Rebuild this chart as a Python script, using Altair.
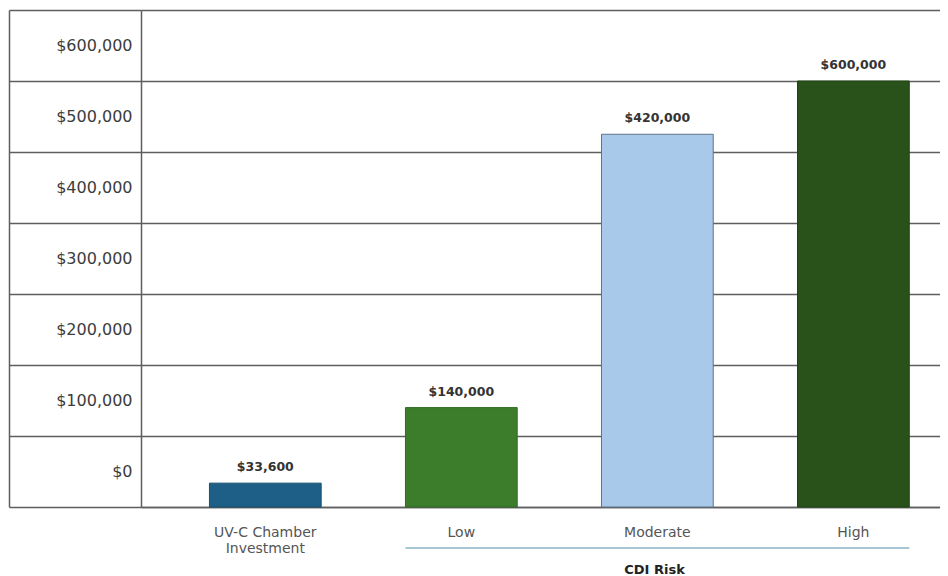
import altair as alt
import pandas as pd

# ---- data ----
categories = ["UV-C Chamber Investment", "Low", "Moderate", "High"]
bar_values = [33600, 140000, 525000, 600000]      # bar lengths as drawn
label_values = [33600, 140000, 420000, 600000]    # printed labels
bar_colors = ["#1d5f86", "#3b7d2b", "#a8c9ea", "#285219"]
stroke_colors = ["#17506f", "#2f6a22", "#5d7488", "#1e4213"]
y_ticks = [0, 100000, 200000, 300000, 400000, 500000, 600000, 700000]
group_title = "CDI Risk"
group_start = ["Low"]
group_end = ["High"]

FONT = "DejaVu Sans"
GRID = "#5e5e5e"

df = pd.DataFrame({
    "category": categories,
    "value": bar_values,
    "label": ["$" + f"{v:,}" for v in label_values],
})
df_group = pd.DataFrame({"start": group_start, "end": group_end})

x_scale = alt.Scale(domain=categories, paddingInner=0.43, paddingOuter=0.253, align=0.69)
y_scale = alt.Scale(domain=[0, 700000], nice=False, zero=True)

x_axis = alt.Axis(
    title=group_title, titleX=513, titleY=62, titleAlign="center", titleBaseline="middle",
    titleFont=FONT, titleFontSize=13, titleFontWeight="bold", titleColor="#222222",
    labelAngle=0, labelPadding=18.5, labelFont=FONT, labelFontSize=14, labelColor="#555555",
    labelLineHeight=16,
    labelExpr="datum.value == 'UV-C Chamber Investment' ? ['UV-C Chamber', 'Investment'] : datum.value",
    ticks=False, domainColor=GRID, domainWidth=1.5,
)
y_axis = alt.Axis(
    orient="left", values=y_ticks, title="",
    labelExpr="datum.value >= 700000 ? '' : '$' + format(datum.value, ',')",
    labelOffset=-35.5, labelPadding=-123, labelFont=FONT, labelFontSize=16, labelColor="#3c3c3c",
    tickSize=132, tickColor=GRID, tickWidth=1.5,
    grid=True, gridColor=GRID, gridWidth=1.5,
    domainColor=GRID, domainWidth=1.5,
)

x_enc = alt.X("category:N", scale=x_scale, axis=x_axis, sort=categories)

frame = alt.Chart(df).mark_point(opacity=0).encode(
    x=x_enc,
    y=alt.Y("value:Q", scale=y_scale,
            axis=alt.Axis(orient="left", offset=132, labels=False, ticks=False, grid=False,
                          domainColor=GRID, domainWidth=1.5, title="")),
)

bars = alt.Chart(df).mark_bar(strokeWidth=1).encode(
    x=x_enc,
    y=alt.Y("value:Q", scale=y_scale, axis=y_axis),
    color=alt.Color("category:N", scale=alt.Scale(domain=categories, range=bar_colors), legend=None),
    stroke=alt.Stroke("category:N", scale=alt.Scale(domain=categories, range=stroke_colors), legend=None),
)

labels = alt.Chart(df).mark_text(
    dy=-12, baseline="alphabetic", font=FONT, fontSize=12.5, fontWeight="bold", color="#333333"
).encode(
    x=x_enc,
    y=alt.Y("value:Q", scale=y_scale, axis=y_axis),
    text="label:N",
)

bracket = alt.Chart(df_group).mark_rule(color="#a6c5d5", strokeWidth=2).encode(
    x=alt.X("start:N", scale=x_scale, axis=x_axis, bandPosition=0),
    x2=alt.X2("end:N", bandPosition=1),
    y=alt.value(538),
)

main = alt.layer(bars, labels, bracket)

chart = alt.layer(frame, main).resolve_scale(y="independent").properties(
    width=799, height=497,
    autosize=alt.AutoSizeParams(type="none"),
    padding={"left": 133, "top": 2, "right": 0, "bottom": 68},
).configure_view(stroke="transparent")

chart.save("out.html", embed_options={"renderer": "svg", "actions": False})
